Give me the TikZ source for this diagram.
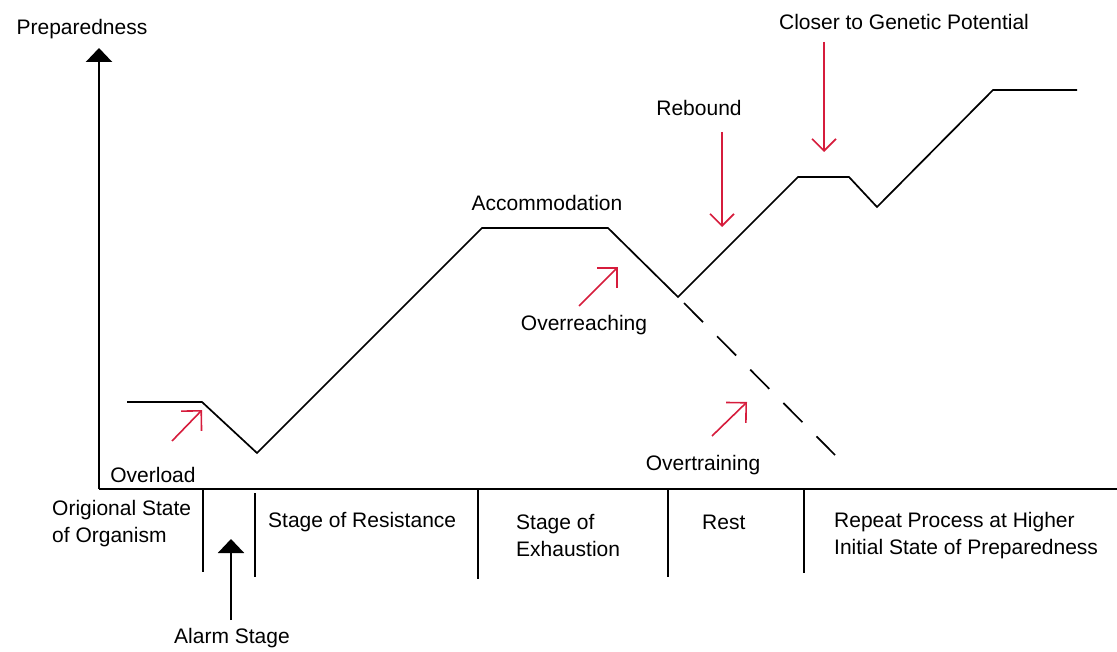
\documentclass[tikz,border=0pt]{standalone}
\usepackage{fontspec}
\setmainfont{Liberation Sans}
\usetikzlibrary{arrows.meta}
\definecolor{markred}{RGB}{214,28,60}

\begin{document}
\begin{tikzpicture}[x=1pt,y=-1pt,
  lbl/.style={inner sep=0pt,font=\fontsize{21}{27}\selectfont},
  axisline/.style={line width=2.4pt,-{Triangle[width=26pt,length=14pt]}},
  curve/.style={line width=1.7pt,line join=miter},
  divider/.style={line width=2pt},
  pointer/.style={markred,line width=1.6pt,-{Straight Barb[angle=90:20pt,line width=1.6pt]}},
  dropper/.style={markred,line width=1.6pt,-{Straight Barb[angle=90:17pt,line width=1.6pt]}}]
  \useasboundingbox (0,0) rectangle (1117,652);
  % axes
  \coordinate (o) at (99,489);
  \coordinate (ytop) at (99,48);
  \coordinate (xend) at (1117,489);
  \draw[axisline] (o) -- (ytop);
  \draw[line width=2.4pt] (o) -- (xend);
  \node[lbl] (prep) at (82,29){Preparedness};
  % preparedness curve
  \coordinate (c0) at (127,402); \coordinate (c1) at (202,402);
  \coordinate (c2) at (257,453); \coordinate (c3) at (482,228);
  \coordinate (c4) at (608,228); \coordinate (c5) at (678,297);
  \coordinate (c6) at (798,177); \coordinate (c7) at (849,177);
  \coordinate (c8) at (877,207); \coordinate (c9) at (993,90);
  \coordinate (c10) at (1077,90);
  \draw[curve] (c0)--(c1)--(c2)--(c3)--(c4)--(c5)--(c6)--(c7)--(c8)--(c9)--(c10);
  \coordinate (d0) at (684,303); \coordinate (d1) at (835,455);
  \draw[curve,dash pattern=on 27pt off 20pt] (d0) -- (d1);
  % stage dividers
  \foreach \x/\t/\b in {203/489/572,255/493/577,478/489/579,668/489/577,804/489/573}
    \draw[divider] (\x,\t) -- (\x,\b);
  % red markers
  \coordinate (ov0) at (172,441); \coordinate (ov1) at (202,410);
  \draw[pointer] (ov0) -- (ov1);
  \coordinate (or0) at (579,306); \coordinate (or1) at (618,267);
  \draw[pointer] (or0) -- (or1);
  \coordinate (ot0) at (712,436); \coordinate (ot1) at (747,402);
  \draw[pointer] (ot0) -- (ot1);
  \coordinate (rb0) at (722,132); \coordinate (rb1) at (722,227);
  \draw[dropper] (rb0) -- (rb1);
  \coordinate (gp0) at (824,42); \coordinate (gp1) at (824,152);
  \draw[dropper] (gp0) -- (gp1);
  % alarm stage pointer
  \node[lbl] (alarm) at (232,638){Alarm Stage};
  \coordinate (al0) at (231,620); \coordinate (al1) at (231,539);
  \draw[line width=2.2pt,-{Triangle[width=26pt,length=14pt]}] (al0) -- (al1);
  % curve labels
  \node[lbl] (overload) at (153,475){Overload};
  \node[lbl] (accom) at (547,203){Accommodation};
  \node[lbl] (overreach) at (584,325){Overreaching};
  \node[lbl] (overtrain) at (703,465){Overtraining};
  \node[lbl] (rebound) at (699,108){Rebound};
  \node[lbl] (genetic) at (904,22){Closer to Genetic Potential};
  % stage labels
  \node[lbl,anchor=west,align=left] (orig) at (52,524){Origional State\\of Organism};
  \node[lbl,anchor=west] (resist) at (268,522){Stage of Resistance};
  \node[lbl,anchor=west,align=left] (exhaust) at (516,536){Stage of\\Exhaustion};
  \node[lbl,anchor=west] (rest) at (702,522){Rest};
  \node[lbl,anchor=west,align=left] (repeat) at (834,536){Repeat Process at Higher\\Initial State of Preparedness};
\end{tikzpicture}
\end{document}
